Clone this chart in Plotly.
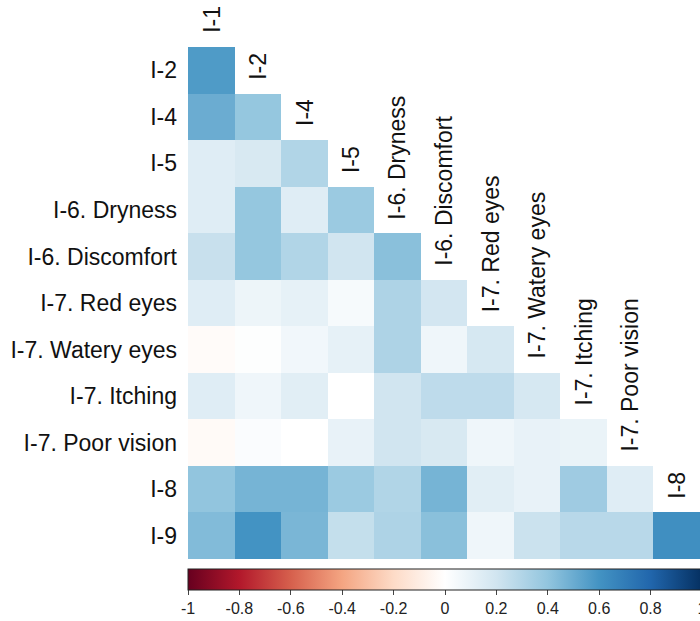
import plotly.graph_objects as go

rows = ["I-2", "I-4", "I-5", "I-6. Dryness", "I-6. Discomfort", "I-7. Red eyes",
        "I-7. Watery eyes", "I-7. Itching", "I-7. Poor vision", "I-8", "I-9"]
cols = ["I-1", "I-2", "I-4", "I-5", "I-6. Dryness", "I-6. Discomfort", "I-7. Red eyes",
        "I-7. Watery eyes", "I-7. Itching", "I-7. Poor vision", "I-8"]

# lower-triangular correlations (row i has i+1 values)
r_I2 = [0.57]
r_I4 = [0.50, 0.39]
r_I5 = [0.14, 0.17, 0.30]
r_dry = [0.14, 0.39, 0.14, 0.37]
r_disc = [0.23, 0.39, 0.30, 0.20, 0.42]
r_red = [0.14, 0.08, 0.11, 0.04, 0.31, 0.19]
r_wat = [-0.02, 0.01, 0.06, 0.11, 0.31, 0.07, 0.18]
r_itch = [0.14, 0.07, 0.13, 0.00, 0.20, 0.26, 0.26, 0.18]
r_poor = [-0.03, 0.02, 0.00, 0.10, 0.20, 0.17, 0.07, 0.10, 0.09]
r_I8 = [0.40, 0.47, 0.47, 0.37, 0.30, 0.47, 0.13, 0.10, 0.36, 0.14]
r_I9 = [0.44, 0.60, 0.46, 0.24, 0.31, 0.42, 0.07, 0.22, 0.28, 0.28, 0.62]

tri = [r_I2, r_I4, r_I5, r_dry, r_disc, r_red, r_wat, r_itch, r_poor, r_I8, r_I9]
n = len(cols)
z = [r + [None] * (n - len(r)) for r in tri]

cb_vals = [-1, -0.8, -0.6, -0.4, -0.2, 0, 0.2, 0.4, 0.6, 0.8, 1]
cb_text = ["-1", "-0.8", "-0.6", "-0.4", "-0.2", "0", "0.2", "0.4", "0.6", "0.8", "1"]

rdbu = ["#67001F", "#B2182B", "#D6604D", "#F4A582", "#FDDBC7", "#FFFFFF",
        "#D1E5F0", "#92C5DE", "#4393C3", "#2166AC", "#053061"]
cscale = [[i / 10, c] for i, c in enumerate(rdbu)]

font = "Arial, Liberation Sans, sans-serif"

fig = go.Figure(go.Heatmap(
    z=z, x=list(range(n)), y=list(range(len(rows))),
    zmin=-1, zmax=1, colorscale=cscale, hoverongaps=False,
    colorbar=dict(
        orientation="h", x=0, xanchor="left", y=-0.02, yanchor="top",
        len=1.004, lenmode="fraction", thickness=21,
        xpad=0, ypad=0, outlinecolor="#222", outlinewidth=1,
        tickvals=cb_vals, ticktext=cb_text, ticks="outside", ticklen=5,
        tickcolor="#444", ticklabeloverflow="allow",
        tickfont=dict(family=font, size=16, color="#222"),
    ),
))

annotations = []
for j, c in enumerate(cols):
    annotations.append(dict(
        x=j, y=j - 0.5, xref="x", yref="y", text=c, showarrow=False,
        textangle=-90, xanchor="center", yanchor="bottom", yshift=12,
        font=dict(family=font, size=23, color="#111"),
    ))

fig.update_layout(
    width=700, height=621,
    margin=dict(l=188, r=0, t=47, b=62),
    paper_bgcolor="white", plot_bgcolor="white",
    xaxis=dict(range=[-0.5, n - 0.5], showgrid=False, zeroline=False,
               showticklabels=False, ticks=""),
    yaxis=dict(range=[len(rows) - 0.5, -0.5], showgrid=False, zeroline=False,
               tickvals=list(range(len(rows))), ticktext=rows,
               tickfont=dict(family=font, size=23, color="#111"),
               ticks="", ticklabelstandoff=10),
    annotations=annotations,
)

fig.write_html("out.html")
